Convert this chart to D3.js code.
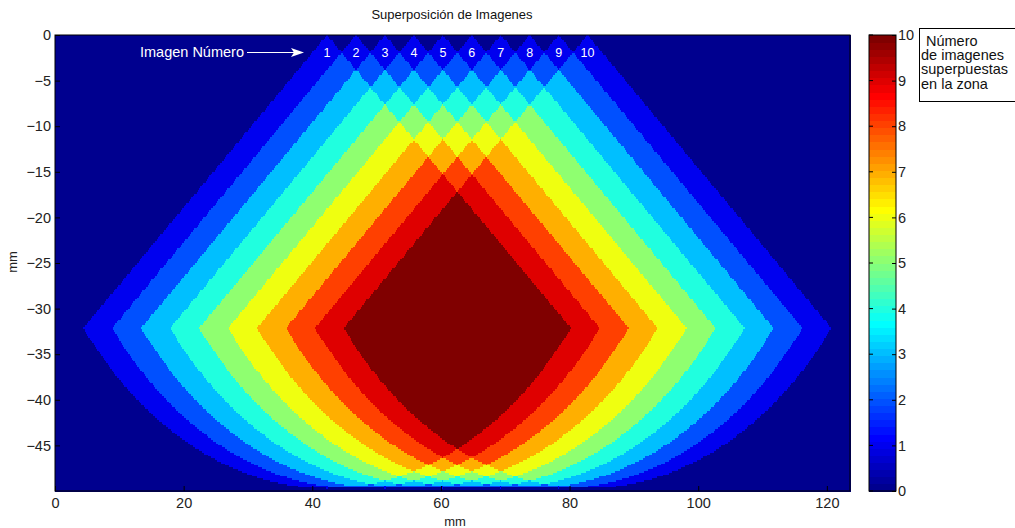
<!DOCTYPE html>
<html>
<head>
<meta charset="utf-8">
<script src="https://cdn.jsdelivr.net/npm/d3@7"></script>
<style>
body { margin: 0; background: #fff; }
svg { font-family: "Liberation Sans", Arial, sans-serif; }
</style>
</head>
<body>
<svg width="1015" height="528"></svg>
<script>
// apex x-positions (mm) of the 10 images, fan radius and half-angle
var apexX = [42.3, 46.8, 51.3, 55.8, 60.3, 64.8, 69.3, 73.8, 78.3, 82.8];
var apexLabels = ['1','2','3','4','5','6','7','8','9','10'];
var radius = 49.7;
var halfAngle = 49.7; // degrees from vertical
var xTicks = [0, 20, 40, 60, 80, 100, 120];
var yTicks = [0, -5, -10, -15, -20, -25, -30, -35, -40, -45];
var cbTicks = [0, 1, 2, 3, 4, 5, 6, 7, 8, 9, 10];
var boxLines = ['Número', 'de imagenes', 'superpuestas', 'en la zona'];

var svg = d3.select('svg');

var x = d3.scaleLinear().domain([0, 123.6]).range([55, 850]);
var y = d3.scaleLinear().domain([0, -50]).range([35, 491]);

// matlab jet(64)
function jet(m) {
  var n = Math.ceil(m / 4);
  var u = [];
  for (var i = 1; i <= n; i++) u.push(i / n);
  for (var i = 0; i < n - 1; i++) u.push(1);
  for (var i = n; i >= 1; i--) u.push(i / n);
  var g0 = Math.ceil(n / 2) - (m % 4 == 1 ? 1 : 0);
  var J = [];
  for (var i = 0; i < m; i++) J.push([0, 0, 0]);
  for (var k = 1; k <= u.length; k++) {
    var g = g0 + k, r = g + n, b = g - n;
    if (r <= m) J[r - 1][0] = u[k - 1];
    if (g <= m) J[g - 1][1] = u[k - 1];
    if (b >= 1) J[b - 1][2] = u[k - 1];
  }
  return J.map(function(c) { return d3.rgb(c[0] * 255, c[1] * 255, c[2] * 255).toString(); });
}
var cmap = jet(64);
function colorOf(v) {
  var idx = Math.min(Math.floor(v / 10 * 64), 63);
  return cmap[idx];
}

// overlap count
var th = halfAngle * Math.PI / 180;
function count(px, py) {
  var c = 0;
  apexX.forEach(function(ax) {
    var dx = px - ax, dy = -py;
    var d = Math.sqrt(dx * dx + dy * dy);
    if (d <= radius && Math.abs(Math.atan2(dx, dy)) <= th) c++;
  });
  return c;
}

var step = 0.2;
var cols = Math.round(123.6 / step), rows = Math.round(50 / step);
var runs = [];
for (var j = 0; j < rows; j++) {
  var yc = -(j + 0.5) * step;
  var start = 0, cur = count(0.5 * step, yc);
  for (var i = 1; i <= cols; i++) {
    var v = i < cols ? count((i + 0.5) * step, yc) : -1;
    if (v !== cur) {
      runs.push({ x0: start * step, x1: i * step, y0: -j * step, y1: -(j + 1) * step, v: cur });
      start = i; cur = v;
    }
  }
}

var img = svg.append('g').attr('shape-rendering', 'crispEdges');
img.selectAll('rect').data(runs).enter().append('rect')
  .attr('x', function(d) { return x(d.x0); })
  .attr('y', function(d) { return y(d.y0); })
  .attr('width', function(d) { return x(d.x1) - x(d.x0) + 0.5; })
  .attr('height', function(d) { return y(d.y1) - y(d.y0) + 0.5; })
  .attr('fill', function(d) { return colorOf(d.v); });

// frame
svg.append('rect').attr('x', 55).attr('y', 35).attr('width', 795).attr('height', 456)
  .attr('fill', 'none').attr('stroke', '#000').attr('stroke-width', 1);

// axes
var xAxis = svg.append('g').attr('transform', 'translate(0,491)')
  .call(d3.axisBottom(x).tickValues(xTicks).tickSize(-5).tickPadding(7).tickFormat(d3.format('d')));
var yAxis = svg.append('g').attr('transform', 'translate(55,0)')
  .call(d3.axisLeft(y).tickValues(yTicks).tickSize(-5).tickPadding(4).tickFormat(d3.format('d')));
[xAxis, yAxis].forEach(function(a) {
  a.select('.domain').remove();
  a.selectAll('text').attr('font-size', 14.5).attr('fill', '#222').attr('font-family', 'Liberation Sans, Arial, sans-serif');
  a.selectAll('line').attr('stroke', '#000');
});
xAxis.selectAll('text').attr('dy', '0.71em');

svg.append('text').attr('x', 452).attr('y', 19).attr('text-anchor', 'middle')
  .attr('font-size', 13).attr('fill', '#111').text('Superposición de Imagenes');
svg.append('text').attr('x', 455).attr('y', 526).attr('text-anchor', 'middle')
  .attr('font-size', 13).attr('fill', '#222').text('mm');
svg.append('text').attr('transform', 'translate(17,262) rotate(-90)').attr('text-anchor', 'middle')
  .attr('font-size', 13).attr('fill', '#222').text('mm');

// image number labels
svg.selectAll('.lbl').data(apexX).enter().append('text')
  .attr('class', 'lbl')
  .attr('x', function(d) { return x(d); })
  .attr('y', 57)
  .attr('text-anchor', 'middle')
  .attr('font-size', 12.5)
  .attr('fill', '#fff')
  .text(function(d, i) { return apexLabels[i]; });

svg.append('text').attr('x', 140).attr('y', 57).attr('font-size', 14.5).attr('fill', '#fff').text('Imagen Número');
svg.append('line').attr('x1', 247).attr('y1', 52.5).attr('x2', 294).attr('y2', 52.5)
  .attr('stroke', '#fff').attr('stroke-width', 1);
svg.append('path').attr('d', 'M291,48 L304,52.5 L291,57 L294,52.5 Z').attr('fill', '#fff');

// colorbar
var cb = d3.scaleLinear().domain([0, 10]).range([491, 35]);
var bands = d3.range(64);
svg.append('g').attr('shape-rendering', 'crispEdges').selectAll('rect').data(bands).enter().append('rect')
  .attr('x', 869)
  .attr('y', function(d) { return cb((d + 1) * 10 / 64); })
  .attr('width', 27)
  .attr('height', function(d) { return cb(d * 10 / 64) - cb((d + 1) * 10 / 64) + 0.5; })
  .attr('fill', function(d) { return cmap[d]; });
svg.append('rect').attr('x', 869).attr('y', 35).attr('width', 27).attr('height', 456)
  .attr('fill', 'none').attr('stroke', '#000');
var cbAxis = svg.append('g').attr('transform', 'translate(896,0)')
  .call(d3.axisRight(cb).tickValues(cbTicks).tickSize(-4).tickPadding(2).tickFormat(d3.format('d')));
cbAxis.select('.domain').remove();
cbAxis.selectAll('text').attr('font-size', 14.5).attr('fill', '#222').attr('font-family', 'Liberation Sans, Arial, sans-serif');
svg.append('g').selectAll('line').data(cbTicks).enter().append('line')
  .attr('x1', 869).attr('x2', 873)
  .attr('y1', function(d) { return cb(d); }).attr('y2', function(d) { return cb(d); })
  .attr('stroke', '#000');

// text box
svg.append('rect').attr('x', 919.5).attr('y', 28.5).attr('width', 110).attr('height', 73)
  .attr('fill', '#fff').attr('stroke', '#000');
svg.selectAll('.box').data(boxLines).enter().append('text')
  .attr('class', 'box')
  .attr('x', function(d, i) { return i === 0 ? 926 : 921; })
  .attr('y', function(d, i) { return 46 + i * 14.2; })
  .attr('font-size', 14.5)
  .attr('fill', '#111')
  .text(function(d) { return d; });
</script>
</body>
</html>
